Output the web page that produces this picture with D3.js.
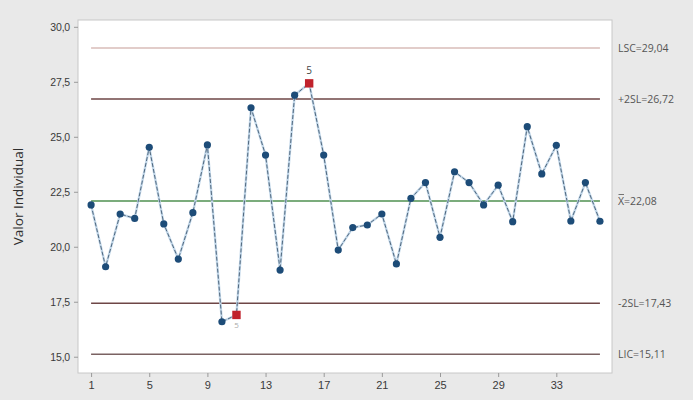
<!DOCTYPE html>
<html>
<head>
<meta charset="utf-8">
<script src="https://cdn.jsdelivr.net/npm/d3@7"></script>
<style>
  html, body { margin: 0; padding: 0; background: #e9e9e9; }
  svg { display: block; font-family: "Open Sans", "DejaVu Sans", sans-serif; }
</style>
</head>
<body>
<svg id="chart" width="693" height="400"></svg>
<script>
// Individual values chart (I chart), 36 observations
const observations = d3.range(1, 37);
const values = [
  21.90, 19.09, 21.49, 21.29, 24.52, 21.04, 19.44, 21.55, 24.63, 16.59,
  16.90, 26.32, 24.17, 18.94, 26.89, 27.43, 24.17, 19.85, 20.87, 20.99,
  21.49, 19.22, 22.20, 22.92, 20.43, 23.41, 22.92, 21.90, 22.80, 21.14,
  25.46, 23.31, 24.61, 21.17, 22.92, 21.16
];
// Observations that failed test 5 (2 of 3 beyond 2 sigma)
const flagged = [11, 16];
const flagTest = ["5", "5"];

// Control and warning limits
const limitKeys = ["LSC", "+2SL", "X", "-2SL", "LIC"];
const limitValues = [29.04, 26.72, 22.08, 17.43, 15.11];
const limitColors = ["#d9bcb8", "#6e4646", "#4f9150", "#6e4646", "#7a6262"];

const yTicks = [15, 17.5, 20, 22.5, 25, 27.5, 30];
const xTicks = [1, 5, 9, 13, 17, 21, 25, 29, 33];

const fmt = v => d3.format(".1f")(v).replace(".", ",");
const fmt2 = v => d3.format(".2f")(v).replace(".", ",");

const svg = d3.select("#chart");
const frame = { left: 78, right: 612, top: 20, bottom: 373 };

const x = d3.scaleLinear().domain([0.1, 36.83]).range([frame.left, frame.right]);
const y = d3.scaleLinear().domain([14.26, 30.31]).range([frame.bottom, frame.top]);

// Plot panel
svg.append("rect")
  .attr("x", frame.left).attr("y", frame.top)
  .attr("width", frame.right - frame.left).attr("height", frame.bottom - frame.top)
  .attr("fill", "#ffffff").attr("stroke", "#c8c8c8").attr("stroke-width", 1);

// Y axis
const yAxis = d3.axisLeft(y).tickValues(yTicks).tickFormat(fmt).tickSize(4).tickPadding(4);
const gy = svg.append("g").attr("transform", `translate(${frame.left},0)`).call(yAxis);
gy.select(".domain").remove();
gy.selectAll(".tick line").attr("stroke", "#9a9a9a");
gy.selectAll(".tick text").attr("fill", "#3a3a3a").attr("font-size", 10.5)
  .attr("letter-spacing", "-0.2px");

// X axis
const xAxis = d3.axisBottom(x).tickValues(xTicks).tickFormat(d3.format("d")).tickSize(4).tickPadding(4);
const gx = svg.append("g").attr("transform", `translate(0,${frame.bottom})`).call(xAxis);
gx.select(".domain").remove();
gx.selectAll(".tick line").attr("stroke", "#9a9a9a");
gx.selectAll(".tick text").attr("fill", "#3a3a3a").attr("font-size", 11);

// Y axis title
svg.append("text")
  .attr("transform", `translate(23,${(frame.top + frame.bottom) / 2}) rotate(-90)`)
  .attr("text-anchor", "middle")
  .attr("font-size", 13.5)
  .attr("fill", "#2e2e2e")
  .text("Valor Individual");

// Limit lines span the observations
const x0 = x(observations[0]), x1 = x(observations[observations.length - 1]);
svg.selectAll("line.limit")
  .data(limitValues)
  .join("line")
  .attr("class", "limit")
  .attr("x1", x0).attr("x2", x1)
  .attr("y1", d => y(d)).attr("y2", d => y(d))
  .attr("stroke", (d, i) => limitColors[i])
  .attr("stroke-width", 1.5);

// Limit labels on the right margin
const lbl = svg.append("g").attr("font-size", 10.5).attr("fill", "#555");
limitKeys.forEach((k, i) => {
  const t = lbl.append("text")
    .attr("x", frame.right + 6)
    .attr("y", y(limitValues[i]))
    .attr("dy", "0.35em");
  if (k === "X") {
    t.append("tspan").text("X");
    t.append("tspan").text("=" + fmt2(limitValues[i]));
    lbl.append("line")
      .attr("x1", frame.right + 6.5).attr("x2", frame.right + 12)
      .attr("y1", y(limitValues[i]) - 6.5).attr("y2", y(limitValues[i]) - 6.5)
      .attr("stroke", "#555").attr("stroke-width", 0.8);
  } else {
    t.text(k + "=" + fmt2(limitValues[i]));
  }
});

// Connecting line
const data = observations.map((o, i) => ({ o, v: values[i] }));
const line = d3.line().x(d => x(d.o)).y(d => y(d.v));
svg.append("path").datum(data).attr("d", line)
  .attr("fill", "none").attr("stroke", "#c3d8ea").attr("stroke-width", 2.4);
svg.append("path").datum(data).attr("d", line)
  .attr("fill", "none").attr("stroke", "#435a70").attr("stroke-width", 0.9)
  .attr("stroke-dasharray", "4,2");

// Points
const normal = data.filter(d => !flagged.includes(d.o));
const bad = data.filter(d => flagged.includes(d.o));
svg.selectAll("circle.pt").data(normal).join("circle")
  .attr("class", "pt")
  .attr("cx", d => x(d.o)).attr("cy", d => y(d.v)).attr("r", 3.6)
  .attr("fill", "#1d4c78");
svg.selectAll("rect.bad").data(bad).join("rect")
  .attr("class", "bad")
  .attr("x", d => x(d.o) - 4.2).attr("y", d => y(d.v) - 4.2)
  .attr("width", 8.4).attr("height", 8.4)
  .attr("fill", "#c0222c");

// Test labels: above for high points, below for low points
svg.selectAll("text.flag").data(bad).join("text")
  .attr("class", "flag")
  .attr("x", d => x(d.o))
  .attr("y", d => d.v > limitValues[2] ? y(d.v) - 9 : y(d.v) + 13)
  .attr("text-anchor", "middle")
  .attr("font-size", d => d.v > limitValues[2] ? 10 : 8)
  .attr("fill", d => d.v > limitValues[2] ? "#444" : "#aaa")
  .text((d, i) => flagTest[i]);
</script>
</body>
</html>
